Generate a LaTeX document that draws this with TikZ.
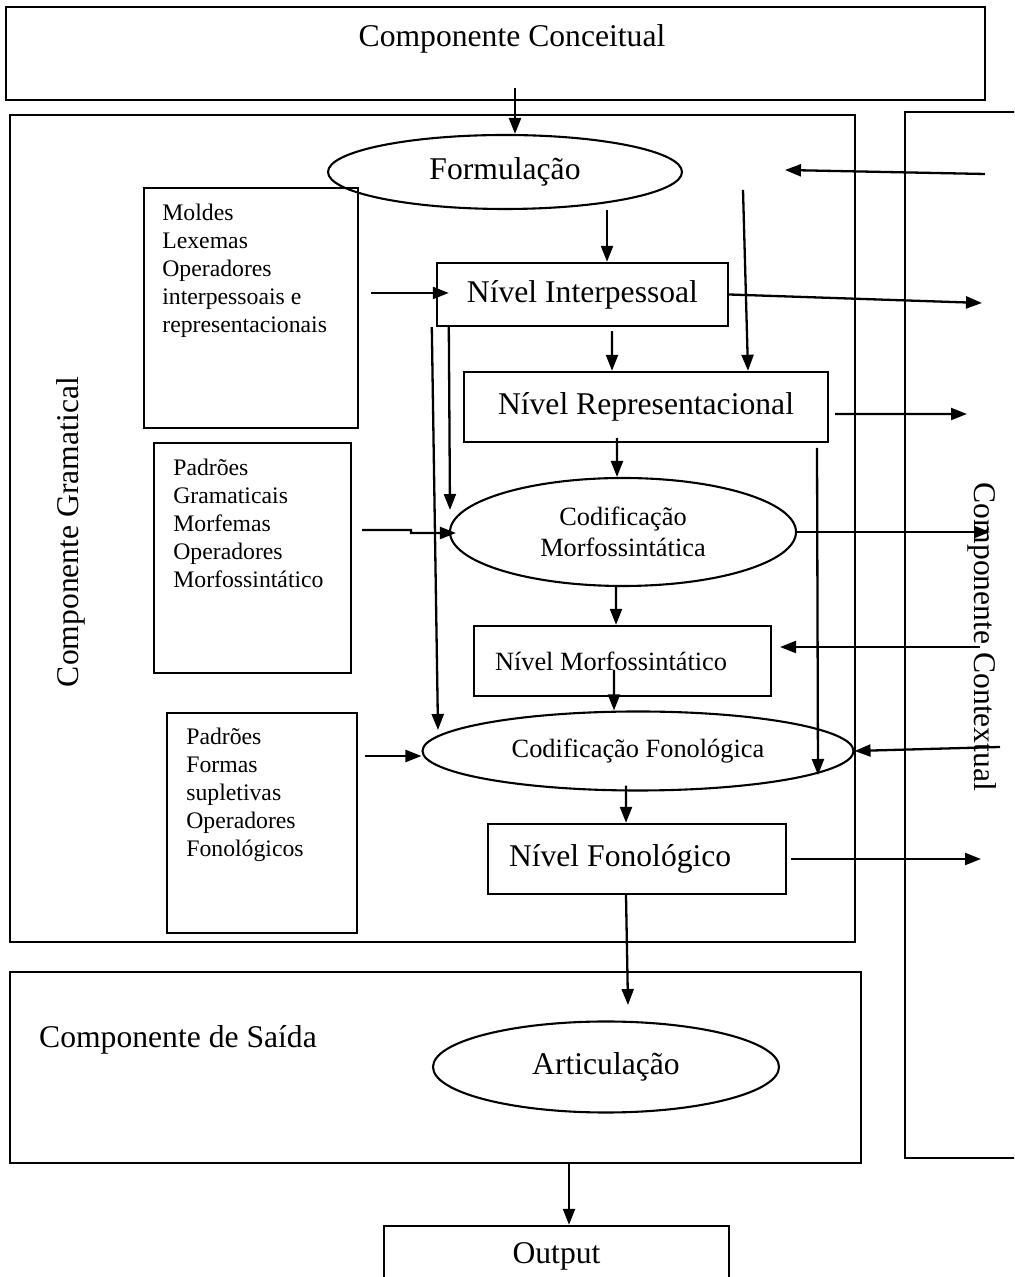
\documentclass[tikz,border=0pt]{standalone}
\usepackage{fontspec}
\setmainfont{Liberation Serif}
\usetikzlibrary{arrows.meta,shapes.geometric,calc}

\begin{document}
\begin{tikzpicture}[
    bigtext/.style={font=\fontsize{18}{21.6}\selectfont},
    midtext/.style={font=\fontsize{15}{18}\selectfont},
    listtext/.style={font=\fontsize{13.5}{15.9}\selectfont, align=left, inner sep=0pt, anchor=north west},
    frame/.style={draw, line width=0.048cm, inner sep=0pt},
    leftlevel/.style={frame, align=flush left, inner xsep=0.42cm},
    oval/.style={draw, ellipse, line width=0.042cm, inner sep=0pt},
    arr/.style={-{Triangle[length=0.32cm,width=0.24cm]}, line width=0.046cm}
  ]
                                \useasboundingbox (0,0) rectangle (20.280000,25.540000);
                                \clip (0,0) rectangle (20.280000,25.540000);

                                % Changing color 0 0 0
                                \definecolor{r0g0b0}{rgb}{0.000000,0.000000,0.000000}%
                                \color{r0g0b0}%

                                % Drawing box Componente Conceitual
                                \node [frame, minimum width=19.580000cm, minimum height=1.860000cm] (conceitual) at (9.910000,24.470000) {};%
                                \node [bigtext] (conceitualtxt) at (10.240000,24.760000) {Componente Conceitual};%

                                % Drawing box Componente Gramatical
                                \node [frame, minimum width=16.900000cm, minimum height=16.540000cm] (gramatical) at (8.650000,14.970000) {};%
                                \node [bigtext, rotate=90] (gramaticaltxt) at (1.420000,14.900000) {Componente Gramatical};%

                                % Drawing box Componente Contextual (cut at the right margin)
                                \node [frame, line width=0.03cm, minimum width=2.900000cm, minimum height=20.920000cm] (contextual) at (19.550000,12.840000) {};%
                                \node [bigtext, rotate=-90] (contextualtxt) at (19.640000,12.800000) {Componente Contextual};%

                                % Drawing box Componente de Saida
                                \node [frame, minimum width=17.020000cm, minimum height=3.820000cm] (saida) at (8.710000,4.190000) {};%
                                \node [bigtext, anchor=west] (saidatxt) at (0.660000,4.740000) {Componente de Saída};%

                                % Drawing box Output
                                \node [frame, bigtext, minimum width=6.900000cm, minimum height=1.200000cm] (output) at (11.130000,0.420000) {Output};%

                                % Marking ellipses
                                \node [oval, bigtext, minimum width=7.080000cm, minimum height=1.480000cm] (formulacao) at (10.100000,22.100000) {Formulação};%
                                \node [oval, midtext, align=center, minimum width=6.920000cm, minimum height=2.160000cm] (codmorfo) at (12.460000,14.900000) {Codificação\\Morfossintática};%
                                \node [oval, midtext, minimum width=8.620000cm, minimum height=1.580000cm] (codfono) at (12.760000,10.520000) {Codificação Fonológica};%
                                \node [oval, bigtext, minimum width=6.920000cm, minimum height=1.820000cm] (articulacao) at (12.120000,4.200000) {Articulação};%

                                % Marking levels
                                \node [frame, bigtext, minimum width=5.820000cm, minimum height=1.260000cm] (interpessoal) at (11.650000,19.650000) {Nível Interpessoal};%
                                \node [frame, bigtext, minimum width=7.280000cm, minimum height=1.400000cm] (representacional) at (12.920000,17.400000) {Nível Representacional};%
                                \node [leftlevel, midtext, text width=5.100000cm, minimum height=1.400000cm] (nivelmorfo) at (12.450000,12.320000) {Nível Morfossintático};%
                                \node [leftlevel, bigtext, text width=5.120000cm, minimum height=1.400000cm] (nivelfono) at (12.740000,8.360000) {Nível Fonológico};%

                                % Marking lists
                                \node [frame, line width=0.04cm, minimum width=4.280000cm, minimum height=4.800000cm, anchor=north west] (moldes) at (2.860000,21.800000) {};%
                                \node [listtext] (moldestxt) at (3.240000,21.460000) {Moldes\\Lexemas\\Operadores\\interpessoais e\\representacionais};%
                                \node [frame, line width=0.04cm, minimum width=3.940000cm, minimum height=4.600000cm, anchor=north west] (padgram) at (3.060000,16.700000) {};%
                                \node [listtext] (padgramtxt) at (3.460000,16.360000) {Padrões\\Gramaticais\\Morfemas\\Operadores\\Morfossintático};%
                                \node [frame, line width=0.04cm, minimum width=3.800000cm, minimum height=4.400000cm, anchor=north west] (padfono) at (3.320000,11.300000) {};%
                                \node [listtext] (padfonotxt) at (3.720000,10.980000) {Padrões\\Formas\\supletivas\\Operadores\\Fonológicos};%

                                % Free ends of arrows
                                \coordinate (c1) at (10.300000,23.780000);%
                                \coordinate (c2) at (12.140000,21.340000);%
                                \coordinate (c3) at (7.420000,19.680000);%
                                \coordinate (c4) at (19.640000,19.480000);%
                                \coordinate (c5a) at (19.700000,22.060000);%
                                \coordinate (c5b) at (15.700000,22.140000);%
                                \coordinate (c6) at (14.860000,21.740000);%
                                \coordinate (c8) at (19.340000,17.260000);%
                                \coordinate (c10) at (7.240000,14.940000);%
                                \coordinate (c11) at (19.800000,14.900000);%
                                \coordinate (c12) at (9.000000,15.340000);%
                                \coordinate (c13) at (8.760000,10.940000);%
                                \coordinate (c14a) at (16.340000,16.580000);%
                                \coordinate (c14b) at (16.360000,10.040000);%
                                \coordinate (c16a) at (19.600000,12.600000);%
                                \coordinate (c16b) at (15.600000,12.600000);%
                                \coordinate (c18) at (7.300000,10.420000);%
                                \coordinate (c19) at (20.000000,10.600000);%
                                \coordinate (c21) at (19.620000,8.360000);%
                                \coordinate (c22) at (12.560000,5.440000);%
                                \coordinate (c23) at (11.380000,0.000000);%

                                % Drawing arrows
                                \draw [arr] (c1) -- (c1 |- formulacao.north);%
                                \draw [arr] (c2) -- (c2 |- interpessoal.north);%
                                \draw [arr] (c3) -- ($(c3 -| interpessoal.west)+(0.26,0)$);%
                                \draw [arr] (interpessoal.east) -- (c4);%
                                \draw [arr] (c5a) -- (c5b);%
                                \draw [arr] (c6) -- ($(representacional.north)+(2.04,0)$);%
                                \draw [arr] ($(interpessoal.south)+(0.59,-0.08)$) -- ($(representacional.north)+(-0.68,0)$);%
                                \draw [arr] ($(representacional.east)+(0.12,-0.14)$) -- (c8);%
                                \draw [arr] ($(representacional.south)+(-0.58,0.10)$) -- ($(codmorfo.north)+(-0.12,0)$);%
                                \draw [arr] (c10) -- ++(0.98,0) -- ++(0,-0.06) -- ($(codmorfo.west)+(0.14,-0.02)$);%
                                \draw [arr] (codmorfo.east) -- (c11);%
                                \draw [arr] ($(interpessoal.south west)+(0.26,0)$) -- (c12);%
                                \draw [arr] ($(interpessoal.south west)+(-0.08,0)$) -- (c13);%
                                \draw [arr] (c14a) -- (c14b);%
                                \draw [arr] ($(codmorfo.south)+(-0.14,0)$) -- ($(nivelmorfo.north)+(-0.13,0)$);%
                                \draw [arr] (c16a) -- (c16b);%
                                \draw [arr] ($(nivelmorfo.center)+(-0.17,-0.18)$) -- ($(codfono.north)+(-0.48,0)$);%
                                \draw [arr] (c18) -- (c18 -| codfono.west);%
                                \draw [arr] (c19) -- (codfono.east);%
                                \draw [arr] ($(codfono.south)+(-0.24,0.12)$) -- ($(nivelfono.north)+(-0.22,0)$);%
                                \draw [arr] ($(nivelfono.east)+(0.08,0)$) -- (c21);%
                                \draw [arr] ($(nivelfono.south)+(-0.22,0)$) -- (c22);%
                                \draw [arr] (c23 |- saida.south) -- (c23 |- output.north);%
                                \color{black}
\end{tikzpicture}
\end{document}
